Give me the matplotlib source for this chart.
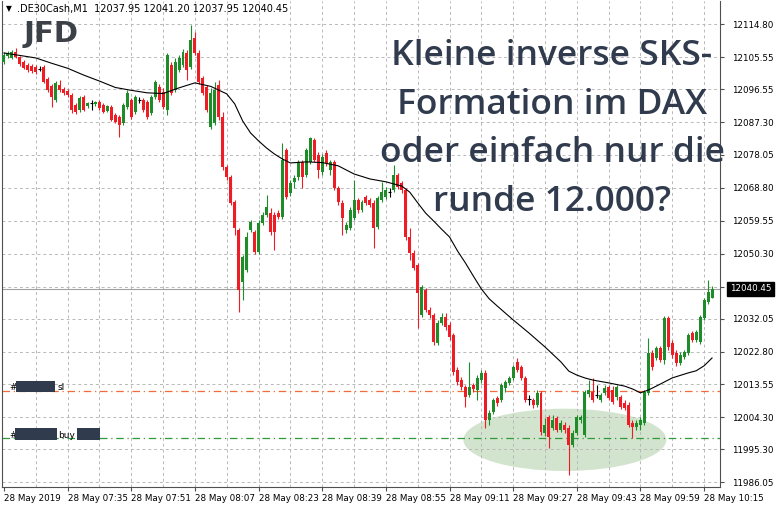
import matplotlib
matplotlib.use("Agg")
import matplotlib.pyplot as plt
from matplotlib.patches import Ellipse, Rectangle

# DE30 1-minute candles, 28 May 2019 07:19 - 10:17
opens = [12104.2, 12105.9, 12105.3, 12107.0, 12105.6, 12104.2, 12103.3, 12103.1, 12102.8, 12102.2,
         12102.8, 12099.4, 12097.4, 12093.5, 12097.7, 12096.6, 12096.0, 12094.9, 12092.1, 12090.7,
         12094.3, 12091.8, 12092.7, 12092.4, 12092.9, 12092.1, 12090.4, 12091.5, 12089.3, 12088.7,
         12087.0, 12091.5, 12093.5, 12090.1, 12093.5, 12093.5, 12092.9, 12089.9, 12094.3, 12097.2,
         12095.7, 12090.7, 12103.3, 12096.3, 12101.9, 12103.3, 12106.7, 12102.8, 12110.9, 12106.7,
         12099.7, 12097.2, 12085.9, 12087.0, 12097.7, 12088.7, 12074.7, 12071.9, 12064.8, 12057.0,
         12042.4, 12045.7, 12057.0, 12056.4, 12050.8, 12058.9, 12061.2, 12061.7, 12061.2, 12061.7,
         12060.6, 12079.5, 12067.4, 12070.5, 12071.9, 12076.1, 12072.4, 12076.1, 12082.3, 12078.0,
         12073.3, 12078.6, 12073.8, 12076.1, 12068.8, 12064.6, 12057.0, 12057.5, 12060.3, 12065.4,
         12062.6, 12066.2, 12065.4, 12064.6, 12057.8, 12065.4, 12066.2, 12067.6, 12068.2, 12072.4,
         12070.2, 12068.2, 12055.0, 12050.5, 12047.1, 12033.1, 12040.1, 12034.5, 12033.1, 12025.2,
         12030.8, 12032.5, 12030.3, 12027.5, 12017.6, 12014.8, 12012.9, 12010.6, 12013.4, 12012.0,
         12014.8, 12016.8, 12003.6, 12005.8, 12009.8, 12009.2, 12012.6, 12014.0, 12015.4, 12019.9,
         12018.5, 12015.4, 12009.5, 12009.2, 12007.8, 12011.2, 11999.9, 12004.4, 12001.3, 12004.1,
         12000.8, 12002.2, 12001.3, 11996.6, 11999.9, 12003.6, 11999.4, 12010.9, 12011.4, 12010.6,
         12009.2, 12011.2, 12012.9, 12012.0, 12010.0, 12010.0, 12008.4, 12007.8, 12002.8, 12001.6,
         12002.2, 12002.8, 12011.2, 12022.4, 12021.0, 12023.8, 12020.4, 12032.2, 12025.2, 12022.4,
         12019.6, 12021.3, 12022.4, 12028.0, 12026.1, 12025.5, 12032.2, 12036.7, 12037.95]
highs = [12107.0, 12107.3, 12107.5, 12108.1, 12105.9, 12104.7, 12103.9, 12103.6, 12103.3, 12103.1,
         12103.3, 12100.0, 12098.0, 12098.8, 12099.1, 12097.2, 12096.6, 12095.5, 12092.7, 12094.6,
         12094.9, 12092.9, 12093.5, 12093.2, 12093.5, 12092.7, 12092.1, 12092.1, 12089.9, 12089.3,
         12092.7, 12096.3, 12094.1, 12094.9, 12094.3, 12094.1, 12093.5, 12094.9, 12099.1, 12098.0,
         12096.9, 12106.7, 12104.2, 12105.3, 12106.1, 12107.8, 12107.5, 12114.6, 12112.6, 12107.5,
         12100.2, 12097.7, 12096.9, 12098.6, 12099.1, 12090.1, 12075.2, 12072.4, 12065.4, 12057.5,
         12049.9, 12056.4, 12059.8, 12057.0, 12059.8, 12062.0, 12066.8, 12063.2, 12062.0, 12062.6,
         12081.4, 12080.0, 12071.0, 12072.4, 12076.6, 12076.6, 12080.0, 12083.1, 12082.8, 12078.9,
         12078.3, 12079.5, 12076.6, 12076.6, 12069.3, 12065.4, 12059.2, 12063.4, 12071.0, 12066.0,
         12065.4, 12066.8, 12066.0, 12065.4, 12066.5, 12070.5, 12069.1, 12068.8, 12075.2, 12073.0,
         12070.7, 12068.8, 12057.5, 12051.4, 12047.7, 12041.5, 12040.7, 12035.3, 12033.6, 12031.7,
         12033.6, 12033.6, 12031.1, 12028.0, 12018.5, 12015.7, 12013.4, 12019.9, 12014.0, 12016.2,
         12017.6, 12017.6, 12006.4, 12009.8, 12010.3, 12014.0, 12014.8, 12016.0, 12019.0, 12021.0,
         12019.0, 12016.0, 12010.6, 12009.8, 12012.0, 12011.7, 12004.1, 12005.0, 12005.0, 12004.7,
         12003.6, 12003.0, 12002.2, 12000.8, 12005.0, 12005.0, 12012.0, 12014.8, 12015.4, 12013.4,
         12011.2, 12013.4, 12013.4, 12013.1, 12013.4, 12010.6, 12009.2, 12008.6, 12003.6, 12003.6,
         12004.4, 12012.0, 12026.6, 12023.2, 12024.4, 12024.4, 12032.8, 12032.8, 12026.1, 12023.2,
         12022.7, 12023.2, 12028.0, 12028.6, 12028.9, 12033.1, 12037.9, 12043.0, 12041.20]
lows = [12103.6, 12105.3, 12105.0, 12105.3, 12103.1, 12102.2, 12101.4, 12101.1, 12100.8, 12101.6,
        12098.3, 12095.7, 12091.5, 12092.9, 12095.7, 12094.9, 12094.3, 12089.9, 12089.6, 12090.1,
        12090.4, 12091.3, 12090.7, 12091.8, 12090.7, 12089.9, 12090.1, 12087.6, 12087.0, 12083.1,
        12086.5, 12091.0, 12088.2, 12089.6, 12092.7, 12090.1, 12088.2, 12089.3, 12093.8, 12092.9,
        12091.0, 12089.3, 12094.9, 12095.7, 12101.4, 12102.8, 12099.1, 12102.2, 12106.1, 12098.0,
        12094.9, 12090.1, 12085.4, 12086.5, 12087.9, 12073.8, 12071.0, 12064.0, 12055.6, 12033.9,
        12037.3, 12045.2, 12056.4, 12050.2, 12050.2, 12058.4, 12060.6, 12055.6, 12051.4, 12060.1,
        12060.1, 12065.7, 12066.5, 12068.8, 12071.0, 12068.8, 12071.9, 12075.5, 12076.1, 12071.6,
        12072.4, 12074.9, 12072.4, 12068.2, 12064.0, 12055.6, 12056.1, 12057.0, 12059.8, 12061.7,
        12062.0, 12064.0, 12063.4, 12051.9, 12057.2, 12064.8, 12065.7, 12066.2, 12067.6, 12068.5,
        12067.4, 12054.2, 12048.5, 12045.7, 12029.4, 12032.5, 12033.9, 12032.2, 12024.7, 12024.7,
        12030.3, 12028.9, 12026.1, 12016.2, 12013.4, 12012.0, 12007.2, 12010.0, 12011.4, 12009.2,
        12014.0, 12001.3, 12002.2, 12005.3, 12007.5, 12008.6, 12011.4, 12013.4, 12014.8, 12017.1,
        12014.8, 12008.6, 12007.8, 12007.0, 12007.2, 11999.4, 11999.1, 11995.7, 12000.8, 12000.2,
        12000.2, 11999.9, 11988.1, 11996.0, 11999.4, 12002.8, 11998.8, 12010.0, 12008.6, 12009.8,
        12008.6, 12010.6, 12009.2, 12008.1, 12009.2, 12006.7, 12006.4, 12001.6, 11998.5, 12000.8,
        12000.8, 12002.2, 12010.6, 12017.6, 12020.4, 12019.9, 12019.3, 12023.2, 12021.0, 12018.8,
        12019.0, 12020.7, 12021.9, 12025.5, 12025.5, 12024.9, 12031.7, 12036.2, 12037.95]
closes = [12106.1, 12106.7, 12107.0, 12105.6, 12103.6, 12102.5, 12101.9, 12101.6, 12101.4, 12102.2,
          12098.6, 12096.3, 12094.3, 12098.3, 12096.3, 12095.5, 12094.9, 12090.7, 12090.1, 12094.1,
          12090.7, 12092.7, 12092.7, 12092.9, 12091.3, 12090.1, 12091.8, 12087.9, 12087.3, 12086.5,
          12092.1, 12095.5, 12088.7, 12094.3, 12093.5, 12090.7, 12088.7, 12094.3, 12098.6, 12093.5,
          12091.5, 12106.1, 12095.5, 12104.2, 12105.3, 12107.0, 12101.9, 12110.4, 12106.7, 12098.6,
          12095.5, 12090.7, 12095.5, 12096.3, 12088.7, 12074.7, 12071.9, 12064.6, 12057.5, 12040.1,
          12049.4, 12055.0, 12059.2, 12050.8, 12058.9, 12061.2, 12063.4, 12056.4, 12056.4, 12060.6,
          12076.6, 12066.2, 12070.2, 12071.6, 12076.1, 12071.9, 12079.5, 12082.8, 12076.6, 12073.8,
          12077.5, 12075.8, 12076.1, 12068.8, 12064.8, 12060.3, 12058.4, 12062.6, 12065.4, 12062.6,
          12064.8, 12064.6, 12064.0, 12057.5, 12066.0, 12067.6, 12068.2, 12067.6, 12072.4, 12069.1,
          12068.2, 12055.0, 12050.5, 12046.3, 12039.3, 12040.9, 12034.5, 12033.1, 12025.5, 12030.8,
          12032.5, 12029.7, 12026.9, 12017.1, 12014.3, 12012.9, 12010.0, 12012.9, 12012.3, 12015.4,
          12016.8, 12003.6, 12005.5, 12009.2, 12008.4, 12013.4, 12014.3, 12015.4, 12018.5, 12017.6,
          12015.4, 12009.2, 12009.5, 12007.8, 12011.2, 12000.2, 12002.2, 11998.8, 12003.6, 12000.8,
          12002.8, 12000.8, 11996.6, 11999.9, 12004.4, 12004.4, 12011.4, 12012.0, 12009.2, 12010.6,
          12010.6, 12012.6, 12009.8, 12008.6, 12012.9, 12007.2, 12007.0, 12002.2, 12001.6, 12002.8,
          12003.6, 12011.4, 12022.4, 12018.5, 12023.8, 12020.4, 12032.2, 12024.1, 12021.9, 12019.6,
          12021.9, 12022.7, 12027.5, 12026.1, 12028.3, 12032.5, 12037.3, 12039.5, 12040.45]

# moving average line
ma_bars = [0, 4, 8, 12, 16, 20, 24, 28, 32, 36, 40, 44, 48, 52, 56, 58, 60, 62, 64, 66,
           68, 70, 72, 76, 80, 84, 88, 92, 96, 100, 102, 104, 106, 108, 110, 112, 114, 116, 118, 120,
           122, 124, 128, 132, 136, 140, 142, 144, 146, 148, 152, 156, 158, 160, 162, 164, 168, 172,
           174, 176, 178]
ma_vals = [12106.7, 12106.0, 12105.3, 12103.8, 12102.4, 12100.5, 12098.8, 12097.0, 12096.2, 12095.5,
           12095.3, 12096.9, 12098.3, 12097.3, 12095.2, 12092.4, 12087.6, 12084.2, 12082.0, 12080.0,
           12078.3, 12076.9, 12075.8, 12076.1, 12075.9, 12075.0, 12072.7, 12071.3, 12070.5, 12069.3,
           12067.6, 12064.6, 12061.7, 12059.5, 12057.2, 12055.0, 12051.1, 12047.7, 12044.0, 12040.4,
           12037.6, 12035.6, 12031.7, 12028.0, 12024.1, 12019.9, 12017.3, 12016.2, 12015.4, 12014.8,
           12014.0, 12013.1, 12012.3, 12011.2, 12012.0, 12013.1, 12015.4, 12016.8, 12017.4, 12018.8,
           12021.0]

time_labels = ["28 May 2019", "28 May 07:35", "28 May 07:51", "28 May 08:07", "28 May 08:23",
               "28 May 08:39", "28 May 08:55", "28 May 09:11", "28 May 09:27", "28 May 09:43",
               "28 May 09:59", "28 May 10:15"]
# the 12041.05 label sits under the current price box, so it is left blank
price_ticks = [12114.80, 12105.55, 12096.55, 12087.30, 12078.05, 12068.80, 12059.55,
               12050.30, 12041.05, 12032.05, 12022.80, 12013.55, 12004.30, 11995.30, 11986.05]
price_labels = ["12114.80", "12105.55", "12096.55", "12087.30", "12078.05", "12068.80", "12059.55",
                "12050.30", "", "12032.05", "12022.80", "12013.55", "12004.30", "11995.30",
                "11986.05"]
last_price = 12040.45
sl_level = 12011.8
buy_level = 11998.4

GREEN = "#1e8c28"
RED = "#ee1c24"
NAVY = "#313b4e"
W, H = 776, 507

fig = plt.figure(figsize=(7.76, 5.07), dpi=100)
ax = fig.add_axes([2 / W, 20 / H, 718 / W, 486 / H])
ax.set_xlim(-0.5, len(closes) + 1)
ax.set_ylim(11984.75, 12121.3)


def px_box(x, y, w, h, color):
    # small filled box placed in picture pixels (top-left origin)
    fig.add_artist(Rectangle((x / W, 1 - (y + h) / H), w / W, h / H, transform=fig.transFigure,
                             facecolor=color, edgecolor="none", zorder=8))


def px_text(x, y, s, **kw):
    fig.text(x / W, 1 - y / H, s, **kw)


# grid
for p in price_ticks:
    ax.axhline(p, color="#b8b8b8", lw=0.7, ls=(0, (3, 3)), zorder=1)
for b in range(8, len(closes), 8):
    ax.axvline(b, color="#b8b8b8", lw=0.7, ls=(0, (3, 3)), zorder=1)

# highlight zone
ax.add_patch(Ellipse((141, 11998.0), 51, 17.5, facecolor="#bcd6b4", edgecolor="none",
                     alpha=0.65, zorder=0.5))

ax.axhline(last_price, color="#a0a0a0", lw=0.8, zorder=1.5)
ax.axhline(sl_level, color="#f26b3a", lw=0.9, ls=(0, (6, 3, 1, 3)), zorder=2)
ax.axhline(buy_level, color="#2e9a3a", lw=0.9, ls=(0, (6, 3, 1, 3)), zorder=2)

for i, (o, h, l, c) in enumerate(zip(opens, highs, lows, closes)):
    if c > o:
        col = GREEN
    elif c < o:
        col = RED
    else:
        col = "black"
    ax.vlines(i, l, h, color=col, lw=0.8, zorder=3)
    if c == o:
        ax.hlines(c, i - 0.4, i + 0.4, color=col, lw=0.8, zorder=3)
    else:
        ax.bar(i, abs(c - o), bottom=min(o, c), width=0.75, color=col, lw=0, zorder=3)

ax.plot(ma_bars, ma_vals, color="black", lw=0.8, zorder=4)

# axes / ticks
ax.spines["top"].set_visible(False)
for s in ["left", "right", "bottom"]:
    ax.spines[s].set_color("#505050")
    ax.spines[s].set_linewidth(0.8)

ax.set_xticks(range(0, 16 * len(time_labels), 16))
ax.set_xticklabels(time_labels, ha="left", fontsize=6.3)
ax.tick_params(axis="x", length=3, pad=2, color="#505050")
ax.yaxis.tick_right()
ax.set_yticks(price_ticks)
ax.set_yticklabels(price_labels, fontsize=6.3)
ax.tick_params(axis="y", length=3, pad=6, color="#505050")

# current price box on the price scale
ax.text(1.0 + 10 / 718, last_price, "12040.45", transform=ax.get_yaxis_transform(),
        fontsize=6.3, color="white", va="center", ha="left", zorder=10,
        bbox=dict(boxstyle="square,pad=0.3", fc="black", ec="black"))

# header
px_text(6, 9, "\u25bc", fontsize=5.5, va="center")
px_text(17, 9, ".DE30Cash,M1  12037.95 12041.20 12037.95 12040.45", fontsize=7, va="center")
px_text(24, 34, "JFD", fontsize=21, fontweight="bold", color="#3c4047", va="center")

# order labels on the left (ticket numbers blacked out)
px_text(9, 387, "#", fontsize=6.5, va="center")
px_box(16, 381, 39, 11, NAVY)
px_text(58, 387, "sl", fontsize=6.5, va="center")
px_text(9, 435, "#", fontsize=6.5, va="center")
px_box(15, 428, 42, 12, NAVY)
px_text(58, 435, "buy", fontsize=6.5, va="center")
px_box(77, 428, 23, 12, NAVY)

# headline
px_text(552, 129, "Kleine inverse SKS-\nFormation im DAX\noder einfach nur die\nrunde 12.000?",
        ha="center", va="center", fontsize=25.5, color=NAVY, family="Open Sans",
        fontweight="semibold", linespacing=1.57, zorder=6)

fig.savefig("out.png", dpi=100)
